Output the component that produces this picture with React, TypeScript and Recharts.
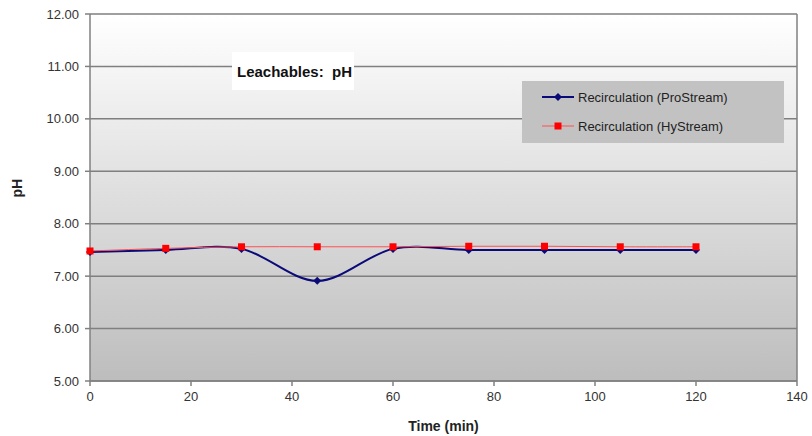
import { LineChart, Line, XAxis, YAxis, CartesianGrid, Legend, ReferenceLine, Label } from "recharts";

const times = [0, 15, 30, 45, 60, 75, 90, 105, 120];
const proStream = [7.46, 7.5, 7.52, 6.91, 7.52, 7.5, 7.5, 7.5, 7.5];
const hyStream = [7.48, 7.53, 7.56, 7.56, 7.56, 7.57, 7.57, 7.56, 7.56];
const xTicks = [0, 20, 40, 60, 80, 100, 120, 140];
const yTicks = [5, 6, 7, 8, 9, 10, 11, 12];

const data = times.map((t, i) => ({ time: t, pro: proStream[i], hy: hyStream[i] }));

const FONT = "Arial, 'Liberation Sans', sans-serif";

// Excel-style smoothed line (Catmull-Rom as cubic Bezier)
const smoothCurve = (context: any) => {
  let pts: number[][] = [];
  return {
    areaStart() {},
    areaEnd() {},
    lineStart() {
      pts = [];
    },
    point(x: number, y: number) {
      pts.push([+x, +y]);
    },
    lineEnd() {
      if (!pts.length) return;
      context.moveTo(pts[0][0], pts[0][1]);
      for (let i = 0; i < pts.length - 1; i++) {
        const p0 = pts[i - 1] || pts[i];
        const p1 = pts[i];
        const p2 = pts[i + 1];
        const p3 = pts[i + 2] || p2;
        context.bezierCurveTo(
          p1[0] + (p2[0] - p0[0]) / 6,
          p1[1] + (p2[1] - p0[1]) / 6,
          p2[0] - (p3[0] - p1[0]) / 6,
          p2[1] - (p3[1] - p1[1]) / 6,
          p2[0],
          p2[1]
        );
      }
    },
  };
};

const Diamond = (props: { cx?: number; cy?: number }) => {
  const { cx, cy } = props;
  if (cx == null || cy == null) return null;
  return <path d={`M${cx},${cy - 4}L${cx + 4},${cy}L${cx},${cy + 4}L${cx - 4},${cy}Z`} fill="#0a0a78" />;
};

const Square = (props: { cx?: number; cy?: number }) => {
  const { cx, cy } = props;
  if (cx == null || cy == null) return null;
  return <rect x={cx - 3.5} y={cy - 3.5} width={7} height={7} fill="#ff0000" />;
};

const LegendBox = () => (
  <div style={{ background: "#c2c2c2", width: 262, height: 62, fontFamily: FONT, fontSize: 13, color: "#222" }}>
    <div style={{ display: "flex", alignItems: "center", height: 32, paddingLeft: 20 }}>
      <svg width={32} height={10}>
        <line x1={0} y1={5} x2={32} y2={5} stroke="#0a0a78" strokeWidth={2} />
        <path d="M16,1L20,5L16,9L12,5Z" fill="#0a0a78" />
      </svg>
      <span style={{ marginLeft: 4 }}>Recirculation (ProStream)</span>
    </div>
    <div style={{ display: "flex", alignItems: "center", height: 30, paddingLeft: 20, marginTop: -2 }}>
      <svg width={32} height={10}>
        <line x1={0} y1={5} x2={32} y2={5} stroke="#ff5050" strokeWidth={1} />
        <rect x={12.5} y={1.5} width={7} height={7} fill="#ff0000" />
      </svg>
      <span style={{ marginLeft: 4 }}>Recirculation (HyStream)</span>
    </div>
  </div>
);

export default function App() {
  return (
    <div style={{ position: "absolute", left: 0, top: 0, width: 812, height: 436, background: "#fff" }}>
      <LineChart width={812} height={436} data={data} margin={{ top: 14, right: 15, bottom: 0, left: 0 }}>
        <defs>
          <linearGradient id="plotBg" x1="0" y1="0" x2="0" y2="1">
            <stop offset="0%" stopColor="#ffffff" />
            <stop offset="100%" stopColor="#bdbdbd" />
          </linearGradient>
        </defs>
        <CartesianGrid vertical={false} fill="url(#plotBg)" stroke="#7f7f7f" strokeWidth={1.5} />
        <XAxis
          dataKey="time"
          type="number"
          height={55}
          domain={[0, 140]}
          ticks={xTicks}
          stroke="#808080"
          strokeWidth={1.5}
          tickSize={5}
          tick={{ fill: "#333", fontSize: 13, fontFamily: FONT }}
          tickMargin={6}
        >
          <Label value="Time (min)" position="insideBottom" offset={5} style={{ fill: "#222", fontSize: 14, fontWeight: "bold", fontFamily: FONT }} />
        </XAxis>
        <YAxis
          width={90}
          domain={[5, 12]}
          ticks={yTicks}
          stroke="#808080"
          strokeWidth={1.5}
          tickSize={5}
          tickFormatter={(v: number) => v.toFixed(2)}
          tick={{ fill: "#333", fontSize: 13, fontFamily: FONT }}
          tickMargin={6}
        >
          <Label value="pH" angle={-90} position="insideLeft" offset={17} style={{ fill: "#222", fontSize: 14, fontWeight: "bold", fontFamily: FONT }} />
        </YAxis>
        <ReferenceLine x={140} stroke="#808080" strokeWidth={1.5} />
        <Legend
          layout="horizontal"
          verticalAlign="middle"
          align="center"
          content={<LegendBox />}
          wrapperStyle={{ position: "absolute", left: 522, top: 81, width: 262, height: 62 }}
        />
        <Line
          type={smoothCurve as any}
          dataKey="pro"
          name="Recirculation (ProStream)"
          stroke="#0a0a78"
          strokeWidth={2}
          dot={<Diamond />}
          activeDot={false}
          isAnimationActive={false}
        />
        <Line
          type={smoothCurve as any}
          dataKey="hy"
          name="Recirculation (HyStream)"
          stroke="#ff5050"
          strokeWidth={1}
          dot={<Square />}
          activeDot={false}
          isAnimationActive={false}
        />
      </LineChart>
      <div
        style={{
          position: "absolute",
          left: 232,
          top: 52,
          width: 122,
          height: 38,
          background: "#fff",
          fontFamily: FONT,
          fontSize: 15,
          fontWeight: "bold",
          color: "#111",
          display: "flex",
          alignItems: "center",
          paddingLeft: 5,
          boxSizing: "border-box",
          whiteSpace: "nowrap",
        }}
      >
        Leachables:&nbsp; pH
      </div>
    </div>
  );
}
